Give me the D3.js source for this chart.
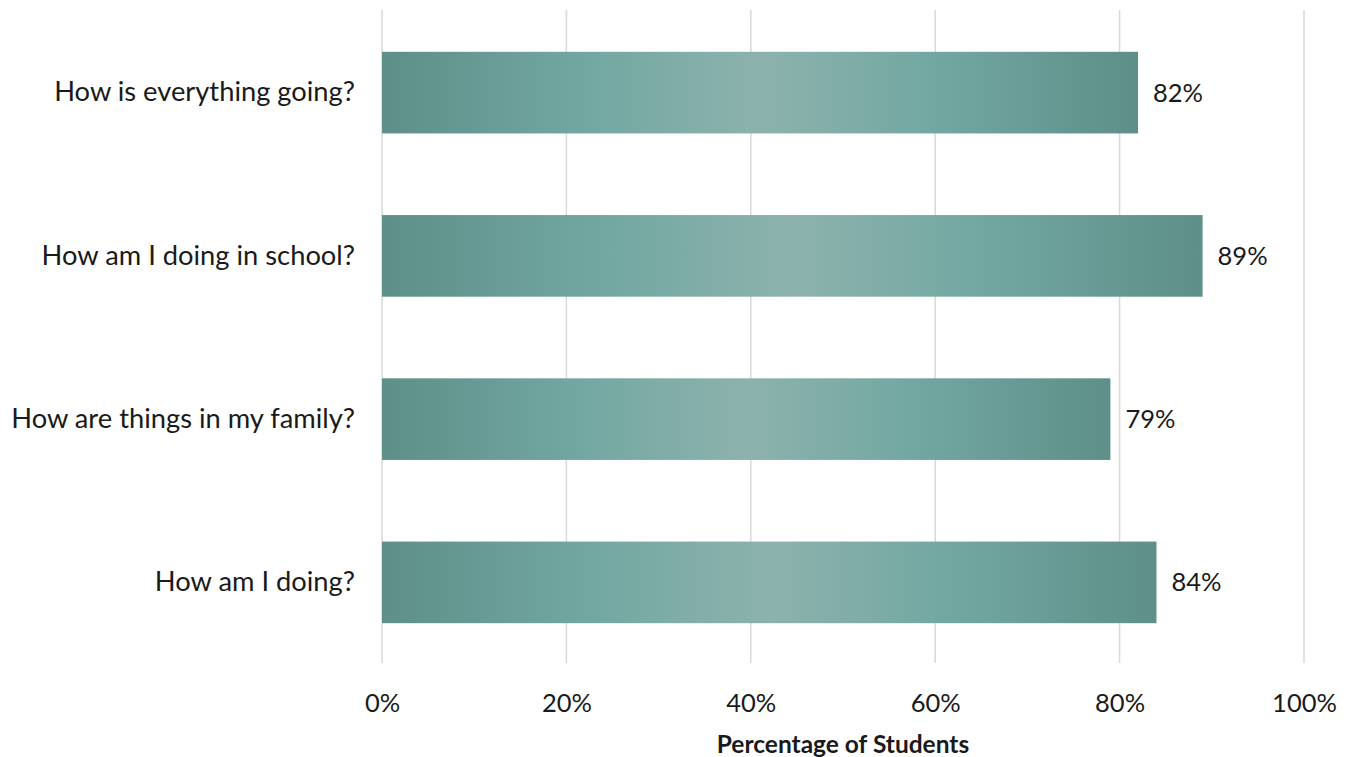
<!DOCTYPE html>
<html>
<head>
<meta charset="utf-8">
<script src="https://cdn.jsdelivr.net/npm/d3@7"></script>
<style>
  html, body { margin: 0; padding: 0; background: #fff; }
  svg text { font-family: Lato, "Open Sans", sans-serif; fill: #1a1a1a; }
</style>
</head>
<body>
<svg id="chart" width="1349" height="757"></svg>
<script>
// Survey questions (top to bottom) and share of students
const categories = [
  "How is everything going?",
  "How am I doing in school?",
  "How are things in my family?",
  "How am I doing?"
];
const values = [82, 89, 79, 84];
const tickValues = [0, 20, 40, 60, 80, 100];
const axisTitle = "Percentage of Students";

const svg = d3.select("#chart");
const margin = { top: 10, right: 45, bottom: 94, left: 382 };
const width = 1349 - margin.left - margin.right;
const height = 757 - margin.top - margin.bottom;

// Bar fill: dark edges, lighter centre
const defs = svg.append("defs");
const grad = defs.append("linearGradient")
  .attr("id", "barFill")
  .attr("x1", "0%").attr("x2", "100%").attr("y1", "0%").attr("y2", "0%");
[
  [0, "#5e8f89"], [0.28, "#73a8a2"], [0.5, "#8db2ad"],
  [0.72, "#73a8a2"], [1, "#5e8f89"]
].forEach(([o, c]) => grad.append("stop").attr("offset", o).attr("stop-color", c));

const g = svg.append("g").attr("transform", `translate(${margin.left},${margin.top})`);

const x = d3.scaleLinear().domain([0, 100]).range([0, width]);
const y = d3.scaleBand().domain(categories).range([0, height]).paddingInner(0.5).paddingOuter(0.25);

// Vertical gridlines
g.append("g").selectAll("line")
  .data(tickValues)
  .join("line")
  .attr("x1", d => x(d)).attr("x2", d => x(d))
  .attr("y1", 0).attr("y2", height)
  .attr("stroke", "#d9d9d9").attr("stroke-width", 1.5);

// Bars
g.append("g").selectAll("rect")
  .data(values)
  .join("rect")
  .attr("x", x(0))
  .attr("y", (d, i) => y(categories[i]) + 1)
  .attr("width", d => x(d) - x(0))
  .attr("height", y.bandwidth())
  .attr("fill", "url(#barFill)");

// Value labels
g.append("g").selectAll("text")
  .data(values)
  .join("text")
  .attr("x", d => x(d) + 15)
  .attr("y", (d, i) => y(categories[i]) + 1 + y.bandwidth() / 2)
  .attr("dy", "0.35em")
  .attr("font-size", 25.5)
  .text(d => d + "%");

// Category axis (labels only)
const yAxis = g.append("g").attr("transform", "translate(0,1)")
  .call(d3.axisLeft(y).tickSize(0).tickPadding(27));
yAxis.select(".domain").remove();
yAxis.selectAll("text").attr("font-size", 27.3).style("font-family", "Lato, sans-serif").attr("fill", "#1a1a1a");

// Percentage axis
const xAxis = g.append("g")
  .attr("transform", `translate(0,${height})`)
  .call(d3.axisBottom(x).tickValues(tickValues).tickFormat(d => d + "%").tickSize(0).tickPadding(31));
xAxis.select(".domain").remove();
xAxis.selectAll("text").attr("font-size", 25.5).style("font-family", "Lato, sans-serif").attr("fill", "#1a1a1a");

// Axis title
g.append("text")
  .attr("x", width / 2)
  .attr("y", height + 90)
  .attr("text-anchor", "middle")
  .attr("font-size", 24.5)
  .attr("font-weight", "bold")
  .text(axisTitle);
</script>
</body>
</html>
